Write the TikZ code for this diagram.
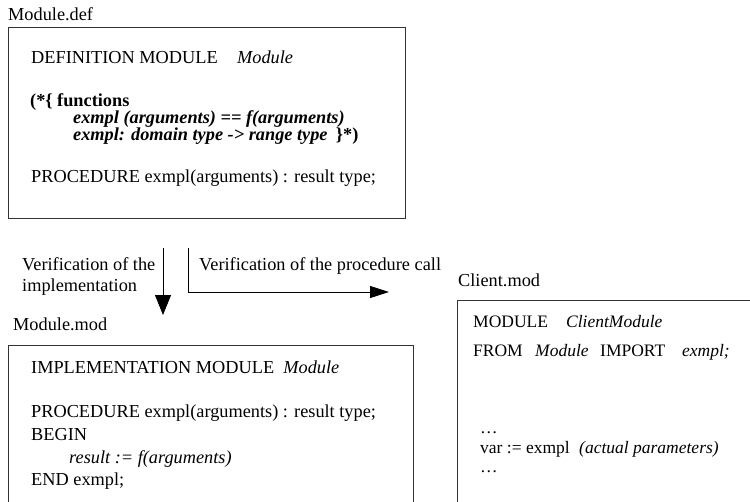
\documentclass[tikz,border=0pt]{standalone}
\usepackage{fontspec}
\setmainfont{Liberation Serif}
\usetikzlibrary{arrows.meta}
\begin{document}
\begin{tikzpicture}[x=1pt,y=-1pt,
  txt/.style={anchor=base west,inner sep=0pt,font=\fontsize{18.3}{22}\selectfont},
  ctxt/.style={anchor=base west,inner sep=0pt,font=\fontsize{17.5}{21}\selectfont},
  frame/.style={draw=black!80,line width=0.9pt},
  arr/.style={draw=black,line width=0.9pt}]
\useasboundingbox (0,0) rectangle (750,501);
% top box
\node[txt] (defname) at (8,20) {Module.def};
\draw[frame] (8,27) rectangle (405,218);
\node[txt] (d1) at (31,63) {DEFINITION MODULE};
\node[txt] (d1b) at (237,63) {\itshape Module};
\node[txt] (d2) at (30,106) {\bfseries (*\{ functions};
\node[txt] (d3) at (73,123) {\bfseries\itshape exmpl (arguments) == f(arguments)};
\node[txt] (d4) at (73,140) {\bfseries\itshape exmpl: domain type -> range type};
\node[txt] (d4b) at ([xshift=8pt]d4.base east) {\bfseries \}*)};
\node[txt] (d5) at (31,182) {PROCEDURE exmpl(arguments) : result type;};
% arrows
\node[txt] (v1) at (22,270) {Verification of the};
\node[txt] (v2) at (22,291) {implementation};
\node[txt] (v3) at (199,270) {Verification of the procedure call};
\coordinate (a1s) at (163,248);
\coordinate (a1e) at (163,315);
\draw[arr,-{Triangle[length=20pt,width=16pt]}] (a1s) -- (a1e);
\coordinate (a2s) at (188,248);
\coordinate (a2c) at (188,292);
\coordinate (a2e) at (389,292);
\draw[arr,-{Triangle[length=19pt,width=12pt]}] (a2s) -- (a2c) -- (a2e);
% lower left box
\node[txt] (modname) at (13,330) {Module.mod};
\draw[frame] (8,502) -- (8,345) -- (413,345) -- (413,502);
\node[txt] (m1) at (31,373) {IMPLEMENTATION MODULE\ \ \itshape Module};
\node[txt] (m2) at (31,417) {PROCEDURE exmpl(arguments) : result type;};
\node[txt] (m3) at (31,440) {BEGIN};
\node[txt] (m4) at (69,463) {\itshape result := f(arguments)};
\node[txt] (m5) at (31,485) {END exmpl;};
% client box
\node[txt] (cliname) at (458,286) {Client.mod};
\draw[frame] (751,300) -- (457,300) -- (457,502);
\node[ctxt] (c1) at (473,327) {MODULE};
\node[ctxt] (c1b) at (566,327) {\itshape ClientModule};
\node[ctxt] (c2) at (473,356) {FROM};
\node[ctxt] (c2b) at (535,356) {\itshape Module};
\node[ctxt] (c2c) at (600,356) {IMPORT};
\node[ctxt] (c2d) at (682,356) {\itshape exmpl;};
\node[ctxt] (c3) at (480,433) {…};
\node[ctxt] (c4) at (480,453) {var := exmpl};
\node[ctxt] (c4b) at (579,453) {\itshape (actual parameters)};
\node[ctxt] (c5) at (480,472) {…};
\end{tikzpicture}
\end{document}
